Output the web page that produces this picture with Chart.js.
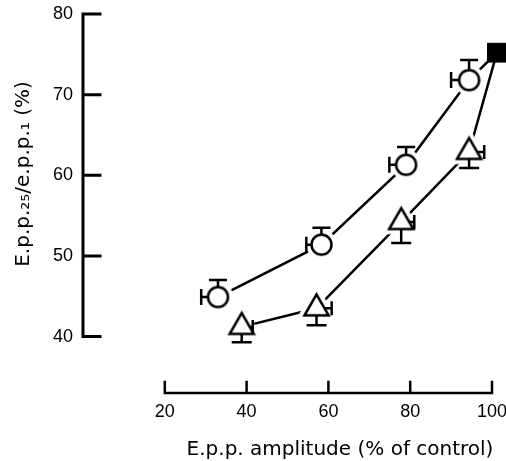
<!DOCTYPE html>
<html>
<head>
<meta charset="utf-8">
<script src="https://cdn.jsdelivr.net/npm/chart.js@4/dist/chart.umd.min.js"></script>
<style>
  html, body { margin: 0; padding: 0; background: #fff; }
  canvas { display: block; }
</style>
</head>
<body>
<canvas id="chart" width="506" height="461"></canvas>
<script>
// open circles (error bars up / left)
const circleX = [33, 58.3, 79, 94.4];
const circleY = [44.9, 51.4, 61.3, 71.8];
const circleXErr = [4.1, 3.7, 4.1, 4.4];
const circleYErr = [2.1, 2.1, 2.2, 2.5];

// open triangles (error bars down / right)
const triangleX = [38.8, 57.1, 77.8, 94.4];
const triangleY = [41.2, 43.5, 54.2, 62.9];
const triangleXErr = [2.7, 3.7, 3.2, 3.7];
const triangleYErr = [1.9, 2.1, 2.6, 2.0];

// filled square (control)
const controlX = [101.2];
const controlY = [75.2];

const xTicks = [20, 40, 60, 80, 100];
const yTicks = [40, 50, 60, 70, 80];
const xTitle = 'E.p.p. amplitude (% of control)';
const yTitle = 'E.p.p.\u2082\u2085/e.p.p.\u2081 (%)';

const FONT = "'Liberation Sans', Arial, Helvetica, sans-serif";
const TITLE_FONT = "'DejaVu Sans', sans-serif";
const CIRCLE_R = 10;
const TRI_R = 14;

// marker drawn on a small canvas, with a white halo so lines stop short of it
function makeMarker(shape, r) {
    const halo = 4, lw = 2.5;
    const size = Math.ceil(2 * (r + halo + lw)) + 4;
    const c = document.createElement('canvas');
    c.width = c.height = size;
    const g = c.getContext('2d');
    const m = size / 2;
    const path = () => {
        g.beginPath();
        if (shape === 'circle') {
            g.arc(m, m, r, 0, Math.PI * 2);
        } else {
            g.moveTo(m, m - r);
            g.lineTo(m + r * Math.sqrt(3) / 2, m + r / 2);
            g.lineTo(m - r * Math.sqrt(3) / 2, m + r / 2);
            g.closePath();
        }
    };
    path();
    g.lineJoin = 'round';
    g.lineWidth = lw + 2 * halo;
    g.strokeStyle = '#fff';
    g.stroke();
    path();
    g.fillStyle = '#fff';
    g.fill();
    g.lineJoin = 'miter';
    g.lineWidth = lw;
    g.strokeStyle = '#000';
    g.stroke();
    return c;
}

const circleImg = makeMarker('circle', CIRCLE_R);
const triangleImg = makeMarker('triangle', TRI_R);

const toPoints = (xs, ys) => xs.map((x, i) => ({ x: x, y: ys[i] }));
const controlPoints = toPoints(controlX, controlY);

const paperPlugin = {
    id: 'paper',
    beforeDatasetsDraw(chart) {
        const ctx = chart.ctx;
        const xs = chart.scales.x, ys = chart.scales.y;
        const left = chart.chartArea.left, bottom = chart.chartArea.bottom;
        ctx.save();
        ctx.strokeStyle = '#000';
        ctx.lineCap = 'square';
        // y axis
        ctx.lineWidth = 3;
        ctx.beginPath();
        ctx.moveTo(left, ys.getPixelForValue(yTicks[0]));
        ctx.lineTo(left, ys.getPixelForValue(yTicks[yTicks.length - 1]));
        yTicks.forEach(v => {
            const py = ys.getPixelForValue(v);
            ctx.moveTo(left, py);
            ctx.lineTo(left + 17, py);
        });
        ctx.stroke();
        // x axis
        ctx.lineWidth = 2.5;
        ctx.beginPath();
        ctx.moveTo(xs.getPixelForValue(xTicks[0]), bottom);
        ctx.lineTo(xs.getPixelForValue(xTicks[xTicks.length - 1]), bottom);
        xTicks.forEach(v => {
            const px = xs.getPixelForValue(v);
            ctx.moveTo(px, bottom);
            ctx.lineTo(px, bottom - 11);
        });
        ctx.stroke();
        ctx.restore();
    },
    afterDatasetsDraw(chart) {
        const ctx = chart.ctx;
        const xs = chart.scales.x, ys = chart.scales.y;
        ctx.save();
        ctx.strokeStyle = '#000';
        ctx.lineWidth = 2.5;
        ctx.lineCap = 'butt';
        ctx.beginPath();
        circleX.forEach((x, i) => {
            const px = xs.getPixelForValue(x), py = ys.getPixelForValue(circleY[i]);
            const top = ys.getPixelForValue(circleY[i] + circleYErr[i]);
            const lft = xs.getPixelForValue(x - circleXErr[i]);
            ctx.moveTo(px, py - CIRCLE_R);
            ctx.lineTo(px, top);
            ctx.moveTo(px - 9, top);
            ctx.lineTo(px + 9, top);
            ctx.moveTo(px - CIRCLE_R, py);
            ctx.lineTo(lft, py);
            ctx.moveTo(lft, py - 8);
            ctx.lineTo(lft, py + 8);
        });
        triangleX.forEach((x, i) => {
            const px = xs.getPixelForValue(x), py = ys.getPixelForValue(triangleY[i]);
            const bot = ys.getPixelForValue(triangleY[i] - triangleYErr[i]);
            const rgt = xs.getPixelForValue(x + triangleXErr[i]);
            ctx.moveTo(px, py + TRI_R / 2);
            ctx.lineTo(px, bot);
            ctx.moveTo(px - 10, bot);
            ctx.lineTo(px + 10, bot);
            ctx.moveTo(px + TRI_R * 0.577, py);
            ctx.lineTo(rgt, py);
            ctx.moveTo(rgt, py - 7);
            ctx.lineTo(rgt, py + 7);
        });
        ctx.stroke();
        ctx.restore();
    },
    afterDraw(chart) {
        const ctx = chart.ctx;
        ctx.save();
        ctx.fillStyle = '#000';
        ctx.font = '20px ' + TITLE_FONT;
        ctx.textAlign = 'center';
        ctx.textBaseline = 'alphabetic';
        ctx.fillText(xTitle, 340, 455);
        ctx.translate(24, 174);
        ctx.rotate(-Math.PI / 2);
        ctx.textBaseline = 'middle';
        ctx.fillText(yTitle, 0, 0);
        ctx.restore();
    }
};

new Chart(document.getElementById('chart'), {
    type: 'scatter',
    data: {
        datasets: [
            {
                data: controlPoints,
                pointStyle: 'rect',
                pointRadius: 14,
                backgroundColor: '#000',
                borderWidth: 0,
                clip: false
            },
            {
                type: 'line',
                data: toPoints(circleX, circleY).concat(controlPoints),
                borderColor: '#000',
                borderWidth: 2.5,
                pointStyle: circleImg,
                pointRadius: circleX.map(() => 10).concat([0]),
                tension: 0,
                fill: false,
                clip: false
            },
            {
                type: 'line',
                data: toPoints(triangleX, triangleY).concat(controlPoints),
                borderColor: '#000',
                borderWidth: 2.5,
                pointStyle: triangleImg,
                pointRadius: triangleX.map(() => 10).concat([0]),
                tension: 0,
                fill: false,
                clip: false
            }
        ]
    },
    options: {
        responsive: false,
        animation: false,
        devicePixelRatio: 1,
        layout: { padding: { top: 14, right: 13, left: 0, bottom: 0 } },
        plugins: { legend: { display: false }, tooltip: { enabled: false } },
        scales: {
            x: {
                type: 'linear',
                min: 0,
                max: 100,
                grid: { display: false, drawTicks: false },
                border: { display: false },
                ticks: { color: '#000', padding: 8, maxRotation: 0, font: { family: FONT, size: 18 } },
                afterBuildTicks: s => { s.ticks = xTicks.map(v => ({ value: v })); },
                afterFit: s => { s.height = 68; s.paddingLeft = 0; s.paddingRight = 0; }
            },
            y: {
                type: 'linear',
                min: 33,
                max: 80,
                grid: { display: false, drawTicks: false },
                border: { display: false },
                ticks: { color: '#000', padding: 10, font: { family: FONT, size: 18 } },
                afterBuildTicks: s => { s.ticks = yTicks.map(v => ({ value: v })); },
                afterFit: s => { s.width = 83; s.paddingTop = 0; s.paddingBottom = 0; }
            }
        }
    },
    plugins: [paperPlugin]
});
</script>
</body>
</html>
